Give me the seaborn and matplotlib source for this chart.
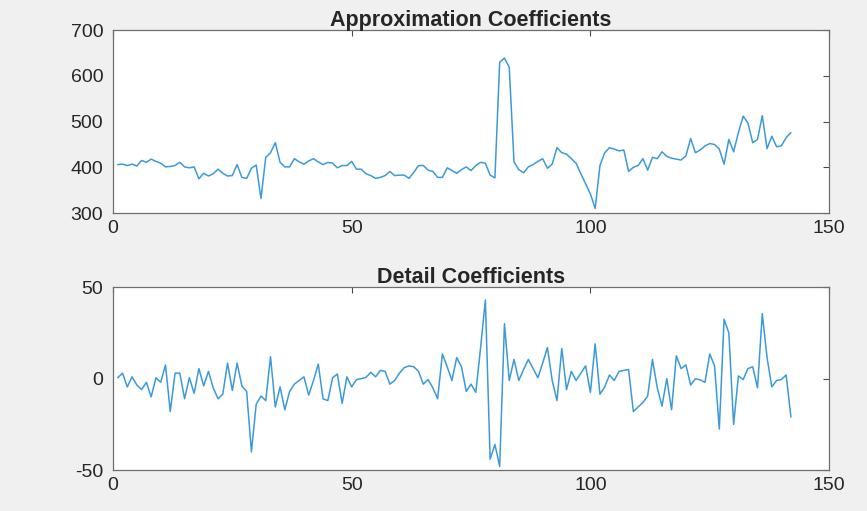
import numpy as np
import pandas as pd
import seaborn as sns
import matplotlib.pyplot as plt

# approximation coefficients, samples 1..142
approx = [406, 407, 404, 407, 403, 415, 411, 418, 413, 409,
          401, 402, 404, 411, 401, 399, 401, 375, 387, 381,
          386, 396, 387, 381, 382, 406, 378, 376, 398, 405,
          332, 422, 432, 454, 411, 401, 401, 419, 412, 407,
          414, 419, 412, 406, 411, 409, 399, 404, 404, 413,
          396, 396, 386, 382, 376, 378, 382, 391, 382, 383,
          383, 376, 389, 404, 404, 394, 391, 378, 378, 399,
          393, 387, 395, 401, 393, 404, 411, 409, 383, 377,
          630, 639, 619, 412, 395, 388, 401, 406, 413, 419,
          398, 407, 443, 432, 429, 419, 409, 386, 364, 342,
          310, 404, 432, 443, 440, 436, 438, 391, 400, 404,
          419, 394, 422, 419, 434, 424, 420, 418, 416, 425,
          463, 432, 438, 447, 452, 450, 440, 407, 461, 434,
          476, 512, 497, 454, 461, 513, 441, 468, 445, 447,
          465, 476]

# detail coefficients, samples 1..142
detail = [0.5, 3, -4.5, 1, -3.5, -6, -2, -10, 0.5, -2,
          7.5, -18, 3, 3, -11, 0.5, -8, 5.5, -4, 4,
          -5, -11, -8.5, 8.5, -6.5, 8.5, -4, -7, -40, -14,
          -9.5, -12, 12, -15.5, -4.5, -17, -7, -3, -1, 1,
          -9, -1, 8, -11, -12, 0.5, 2.5, -13.5, 1, -4.5,
          -0.5, 0, 0.7, 3.5, 1, 4.5, 4, -3, -1, 3,
          6, 7, 6.5, 4, -3, -0.5, -5, -11, 13.5, 6.5,
          -1, 11.5, 6.5, -7, -3, -7.5, 17, 43, -44, -36,
          -48, 30, -1, 10.5, -1, 5, 10.5, 5.5, 0.5, 8.5,
          17, -1, -12, 16.5, -6, 4, -1, 3, 7, -7.5,
          19, -8.5, -4.5, 2, -1, 4, 4.5, 5, -18, -15.5,
          -13, -9.5, 10.5, -5, -15, 0, -17, 12.5, 5.5, 7.5,
          -3.5, 0, -0.7, -2, 13.5, 7, -27.5, 32.5, 25, -25,
          1.5, -0.5, 5.5, 6.5, -5, 35.5, 11.5, -4.5, -1, -0.5,
          2, -21]

idx = np.arange(1, len(approx) + 1)
df = pd.DataFrame({'n': idx, 'approx': approx, 'detail': detail})

sns.set_style('white')
plt.rcParams['font.family'] = ['Liberation Sans', 'DejaVu Sans']
plt.rcParams['axes.unicode_minus'] = False

line_col = '#3c9ad8'
fig = plt.figure(figsize=(8.67, 5.11), dpi=100, facecolor='#f0f0f0')
ax1 = fig.add_axes([0.1303, 0.583, 0.826, 0.358])
ax2 = fig.add_axes([0.1303, 0.080, 0.826, 0.358])

sns.lineplot(data=df, x='n', y='approx', ax=ax1, color=line_col, linewidth=1.1)
sns.lineplot(data=df, x='n', y='detail', ax=ax2, color=line_col, linewidth=1.1)

ax1.set_ylim(300, 700)
ax1.set_yticks([300, 400, 500, 600, 700])
ax2.set_ylim(-50, 50)
ax2.set_yticks([-50, 0, 50])

for ax, ttl in [(ax1, 'Approximation Coefficients'), (ax2, 'Detail Coefficients')]:
    ax.set_xlim(0, 150)
    ax.set_xticks([0, 50, 100, 150])
    ax.set_xlabel('')
    ax.set_ylabel('')
    ax.set_title(ttl, fontsize=15.5, fontweight='bold', pad=3)
    ax.set_facecolor('white')
    for s in ax.spines.values():
        s.set_visible(True)
        s.set_color('#6e6e6e')
        s.set_linewidth(0.9)
    ax.tick_params(direction='in', top=True, right=True, length=4,
                   width=0.8, color='#4a4a4a', labelsize=14,
                   labelcolor='#262626')
    ax.tick_params(axis='y', pad=7)
    ax.tick_params(axis='x', pad=5)

fig.savefig('out.png', dpi=100, facecolor=fig.get_facecolor())
